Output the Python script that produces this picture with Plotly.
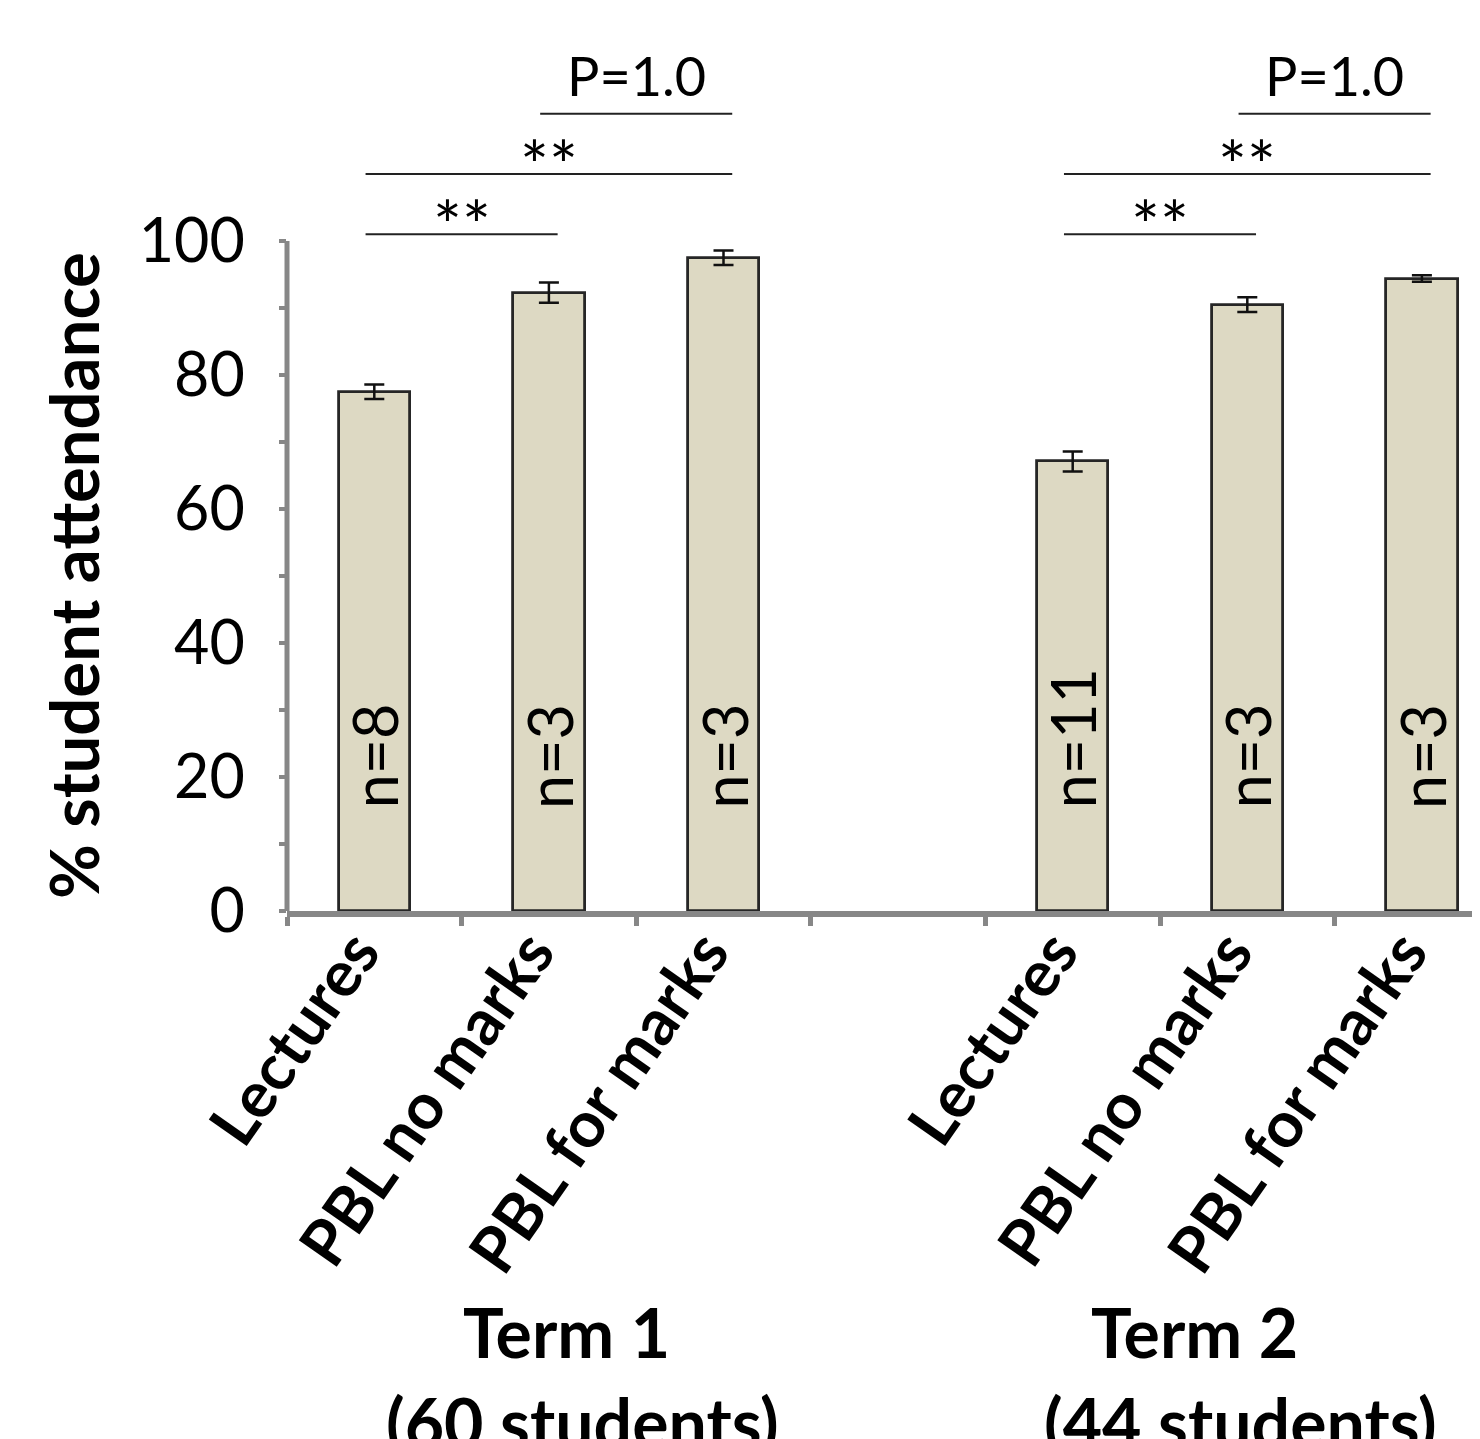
import plotly.graph_objects as go

# ---------------- data ----------------
categories = ["Lectures", "PBL no marks", "PBL for marks"]
terms = ["Term 1", "Term 2"]
term_sub = ["(60 students)", "(44 students)"]
term1_values = [77.5, 92.3, 97.5]
term1_errors = [1.1, 1.5, 1.1]
term2_values = [67.1, 90.5, 94.4]
term2_errors = [1.5, 1.1, 0.5]
term1_n = ["n=8", "n=3", "n=3"]
term2_n = ["n=11", "n=3", "n=3"]
# significance brackets: (term, first cat, second cat, level, label)
sig_pairs = [
    (0, 0, 1, 101, "**"), (0, 0, 2, 110, "**"), (0, 1, 2, 119, "P=1.0"),
    (1, 0, 1, 101, "**"), (1, 0, 2, 110, "**"), (1, 1, 2, 119, "P=1.0"),
]
y_tick_vals = [0, 20, 40, 60, 80, 100]
y_minor_vals = [10, 30, 50, 70, 90]

FONT = "Lato"
AXIS_GREY = "#878787"
BAR_FILL = "#DDD9C3"

slot = 4  # categories per term plus one empty slot
xpos = [t * slot + j for t in range(2) for j in range(3)]
values = term1_values + term2_values
errors = term1_errors + term2_errors
nlabels = term1_n + term2_n
ticktext = categories + categories

fig = go.Figure()
fig.add_trace(go.Bar(
    x=xpos, y=values, width=0.41,
    marker=dict(color=BAR_FILL, line=dict(color="#262626", width=2.8)),
    error_y=dict(type="data", array=errors, visible=True,
                 color="#111111", thickness=2.5, width=10),
    showlegend=False,
))

# n labels inside bars
for x, t in zip(xpos, nlabels):
    fig.add_annotation(x=x, y=15, xref="x", yref="y", text=t, showarrow=False,
                       textangle=-90, xanchor="center", yanchor="bottom",
                       font=dict(family=FONT, size=61, color="black"))

# significance brackets
for term, a, b, lvl, lab in sig_pairs:
    x0 = term * slot + a - 0.05
    x1 = term * slot + b + 0.05
    fig.add_shape(type="line", xref="x", yref="y", x0=x0, x1=x1, y0=lvl, y1=lvl,
                  line=dict(color="#222222", width=2))
    if lab == "**":
        fig.add_annotation(x=(x0 + x1) / 2, y=lvl, xref="x", yref="y", text=lab,
                           showarrow=False, yanchor="bottom", yshift=-32,
                           font=dict(family=FONT, size=68, color="black"))
    else:
        fig.add_annotation(x=(x0 + x1) / 2, y=lvl, xref="x", yref="y", text=lab,
                           showarrow=False, yanchor="bottom", yshift=4,
                           font=dict(family=FONT, size=54, color="black"))

# y axis line (only 0..100)
fig.add_shape(type="line", xref="paper", yref="y", x0=0, x1=0, y0=0, y1=100,
              line=dict(color=AXIS_GREY, width=5))

# y axis title
fig.add_annotation(x=0, y=50, xref="paper", yref="y", text="<b>% student attendance</b>",
                   showarrow=False, textangle=-90, xanchor="center", yanchor="middle",
                   xshift=-214, font=dict(family=FONT, size=67, color="black"))

# term labels
term_shift = [(1.1, 4.7), (1.19, 4.96)]
for t in range(2):
    fig.add_annotation(x=term_shift[0][t], y=0, xref="x", yref="paper",
                       text="<b>%s</b>" % terms[t], showarrow=False,
                       xanchor="center", yanchor="middle", yshift=-420,
                       font=dict(family=FONT, size=68, color="black"))
    fig.add_annotation(x=term_shift[1][t], y=0, xref="x", yref="paper",
                       text="<b>%s</b>" % term_sub[t], showarrow=False,
                       xanchor="center", yanchor="middle", yshift=-510,
                       font=dict(family=FONT, size=68, color="black"))

fig.update_layout(
    width=1472, height=1431,
    margin=dict(l=279, r=0, t=0, b=528, autoexpand=False),
    plot_bgcolor="white", paper_bgcolor="white",
    bargap=0,
    xaxis=dict(
        range=[-0.5, -0.5 + 1193 / 174.6],
        tickmode="array", tickvals=xpos,
        ticktext=["<b>%s</b>" % s for s in ticktext],
        tickangle=-55, ticks="", ticklabelstandoff=-28, ticklabelshift=-18,
        tickfont=dict(family=FONT, size=64, color="black"),
        showline=True, linecolor=AXIS_GREY, linewidth=6,
        showgrid=False, zeroline=False, automargin=False,
        minor=dict(tickvals=[i - 0.5 for i in range(8)], ticks="outside",
                   ticklen=9, tickwidth=5, tickcolor=AXIS_GREY),
    ),
    yaxis=dict(
        range=[0, 903 / 6.7],
        tickmode="array", tickvals=y_tick_vals,
        ticks="outside", ticklen=7, tickwidth=4, tickcolor=AXIS_GREY,
        ticklabelstandoff=22, automargin=False,
        tickfont=dict(family=FONT, size=61, color="black"),
        showline=False, showgrid=False, zeroline=False,
        minor=dict(tickvals=y_minor_vals, ticks="outside",
                   ticklen=7, tickwidth=4, tickcolor=AXIS_GREY),
    ),
)

fig.write_html("out.html")
